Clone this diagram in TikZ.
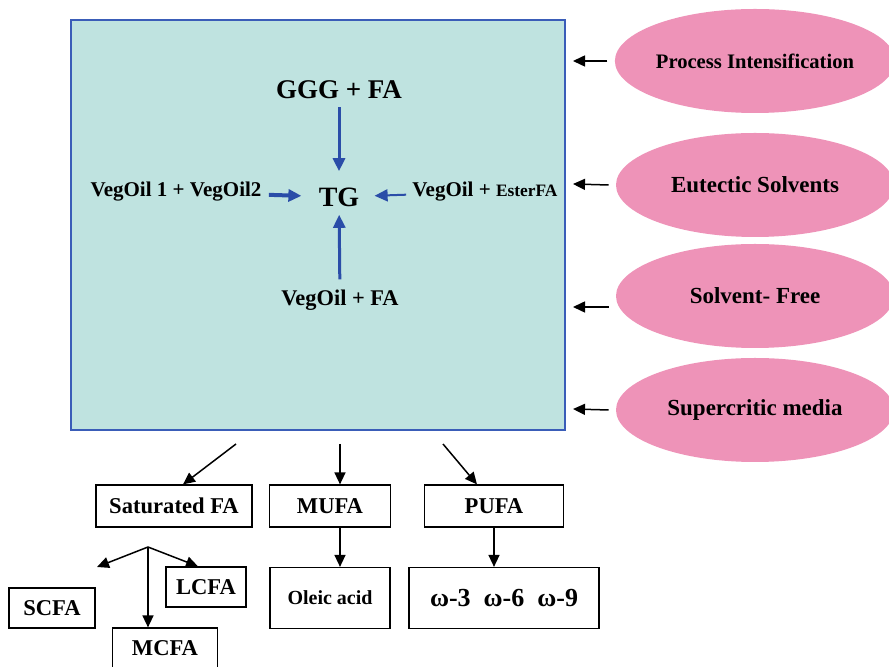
\documentclass[tikz,border=0pt]{standalone}
\usepackage{fontspec}
\setmainfont{Liberation Serif}
\usetikzlibrary{shapes.geometric,arrows.meta}
\definecolor{poolfill}{HTML}{BFE3E0}
\definecolor{pooldraw}{HTML}{3A5DB8}
\definecolor{petal}{HTML}{EE93B8}
\definecolor{flowblue}{HTML}{2A4DA8}
\begin{document}
\begin{tikzpicture}[x=0.5pt, y=-0.5pt,
    route/.style={fill=petal, ellipse, inner sep=0pt, minimum width=139pt, minimum height=52pt, font=\fontsize{11.5}{13}\selectfont\bfseries},
    fam/.style={draw, line width=0.6pt, minimum height=21pt, inner sep=0pt, font=\fontsize{11.3}{13}\selectfont\bfseries},
    feed/.style={inner sep=0pt, font=\fontsize{10.5}{12}\selectfont\bfseries},
    blk/.style={-{Triangle[length=6pt,width=5.5pt]}, line width=0.75pt},
    blu/.style={flowblue, -{Triangle[length=6.5pt,width=6pt]}, line width=1.5pt}]
    \clip (0,0) rectangle (889,667);
    \node[draw=pooldraw, fill=poolfill, line width=1pt, minimum width=247pt, minimum height=205pt] (pool) at (318,225) {};
    \node[feed, font=\fontsize{13.5}{15}\selectfont\bfseries] (ggg) at (339,90) {GGG + FA};
    \node[feed, font=\fontsize{14}{16}\selectfont\bfseries] (tg) at (339,197) {TG};
    \node[feed] (vo12) at (176,192) {VegOil 1 + VegOil2};
    \node[feed] (voe) at (485,192) {VegOil + {\fontsize{8.7}{10}\selectfont EsterFA}};
    \node[feed, font=\fontsize{11.2}{13}\selectfont\bfseries] (vofa) at (340,300) {VegOil + FA};
    \draw[blu, shorten <=4pt, shorten >=8pt] (ggg) -- (tg);
    \draw[blu, line width=2pt, shorten <=3.5pt, shorten >=8.5pt] (vo12) -- (tg);
    \draw[blu, line width=1pt, shorten <=3pt, shorten >=7.5pt] (voe) -- (tg);
    \draw[blu, shorten <=5pt, shorten >=4pt] (vofa) -- (tg);
    \node[route, font=\fontsize{10.3}{12}\selectfont\bfseries] (pi) at (755,61) {Process Intensification};
    \node[route] (eu) at (755,185) {Eutectic Solvents};
    \node[route] (sf) at (755,296) {Solvent- Free};
    \node[route] (sc) at (755,410) {Supercritic media};
    \coordinate (t1) at (573,61);
    \coordinate (t2) at (573,184);
    \coordinate (t3) at (573,307);
    \coordinate (t4) at (573,409);
    \draw[blk] ([xshift=-3.5pt]pi.west) -- (t1);
    \draw[blk] ([xshift=-3.5pt]eu.west) -- (t2);
    \draw[blk] ([shift={(-3.5pt,-5.5pt)}]sf.west) -- (t3);
    \draw[blk] ([xshift=-3.5pt]sc.west) -- (t4);
    \node[fam, minimum width=78pt] (sat) at (174,506) {Saturated FA};
    \node[fam, minimum width=60.5pt] (mufa) at (330,506) {MUFA};
    \node[fam, minimum width=69.5pt] (pufa) at (494,506) {PUFA};
    \node[fam, minimum width=60pt, minimum height=30.5pt, font=\fontsize{10}{12}\selectfont\bfseries] (oleic) at (330,598) {Oleic acid};
    \node[fam, minimum width=95pt, minimum height=30.5pt, font=\fontsize{13}{15}\selectfont\bfseries] (omega) at (504,598) {ω-3\enspace ω-6\enspace ω-9};
    \node[fam, minimum width=40pt, minimum height=20pt] (lcfa) at (206,587) {LCFA};
    \node[fam, minimum width=43pt, minimum height=20pt] (scfa) at (52,608) {SCFA};
    \node[fam, minimum width=52.5pt, minimum height=20pt] (mcfa) at (165,648) {MCFA};
    \coordinate (s0) at (236,444);
    \coordinate (m0) at (340,444);
    \coordinate (p0) at (443,444);
    \coordinate (fan) at (148,547);
    \coordinate (fanl) at (97,567);
    \draw[blk] (s0) -- ([xshift=4.5pt]sat.north);
    \draw[blk] (m0) -- (m0 |- mufa.north);
    \draw[blk] (p0) -- ([xshift=-8.5pt]pufa.north);
    \draw[blk] ([xshift=5pt]mufa.south) -- ([xshift=5pt]oleic.north);
    \draw[blk] (pufa.south) -- (pufa.south |- omega.north);
    \draw[blk] (fan) -- (fanl);
    \draw[blk] (fan) -- ([xshift=-4pt]lcfa.north);
    \draw[blk] (fan) -- (fan |- mcfa.north);
  \end{tikzpicture}
\end{document}
